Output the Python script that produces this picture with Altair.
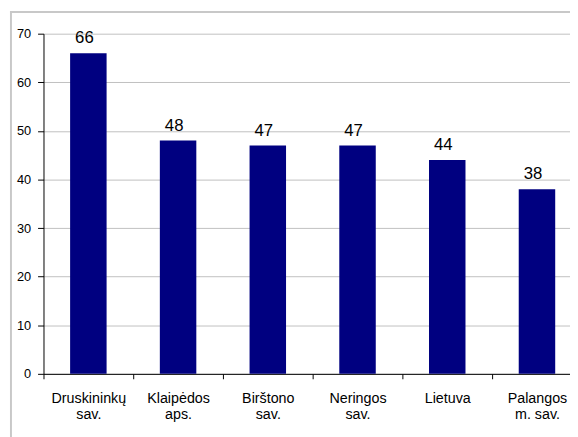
import altair as alt
import pandas as pd

categories = ["Druskininkų\nsav.", "Klaipėdos\naps.", "Birštono\nsav.", "Neringos\nsav.", "Lietuva", "Palangos\nm. sav."]
values = [66, 48, 47, 47, 44, 38]

df = pd.DataFrame({"cat": categories, "val": values})

FONT = "Liberation Sans"

x = alt.X("cat:N", sort=categories, title=None,
          scale=alt.Scale(range=[0, 546], paddingInner=0, paddingOuter=0),
          axis=alt.Axis(labelAngle=0, tickBand="extent", tickSize=5, tickColor="black",
                        domainColor="black", labelFontSize=14.5, labelFont=FONT,
                        labelColor="black", labelPadding=13, labelLineHeight=16,
                        labelExpr="split(datum.label, '\\n')", grid=False))
y = alt.Y("val:Q", title=None,
          scale=alt.Scale(domain=[0, 70]),
          axis=alt.Axis(values=[0, 10, 20, 30, 40, 50, 60, 70], tickSize=6, tickColor="black",
                        domainColor="black", labelFontSize=13, labelFont=FONT,
                        labelColor="black", labelPadding=7, gridColor="#c0c0c0", gridWidth=1))

bars = alt.Chart(df).mark_bar(color="#000080", size=37).encode(x=x, y=y)
labels = alt.Chart(df).mark_text(baseline="alphabetic", dy=-10, dx=-4, fontSize=17,
                                 font=FONT, color="black").encode(x=x, y=y, text="val:Q")

one = alt.Data(values=[{"a": 1}])
frame_top = alt.Chart(one).mark_rule(stroke="#c8c8c8", strokeWidth=2).encode(
    x=alt.value(-34), x2=alt.value(700), y=alt.value(-22))
frame_left = alt.Chart(one).mark_rule(stroke="#c8c8c8", strokeWidth=2).encode(
    x=alt.value(-33), y=alt.value(-23), y2=alt.value(600))

chart = alt.layer(frame_top, frame_left, bars, labels).properties(
    width=534, height=345,
    autosize=alt.AutoSizeParams(type="none"),
    padding={"left": 36, "top": 23, "right": 0, "bottom": 61},
).configure_view(stroke=None)

chart.save("out.html", embed_options={"renderer": "svg", "actions": False})
